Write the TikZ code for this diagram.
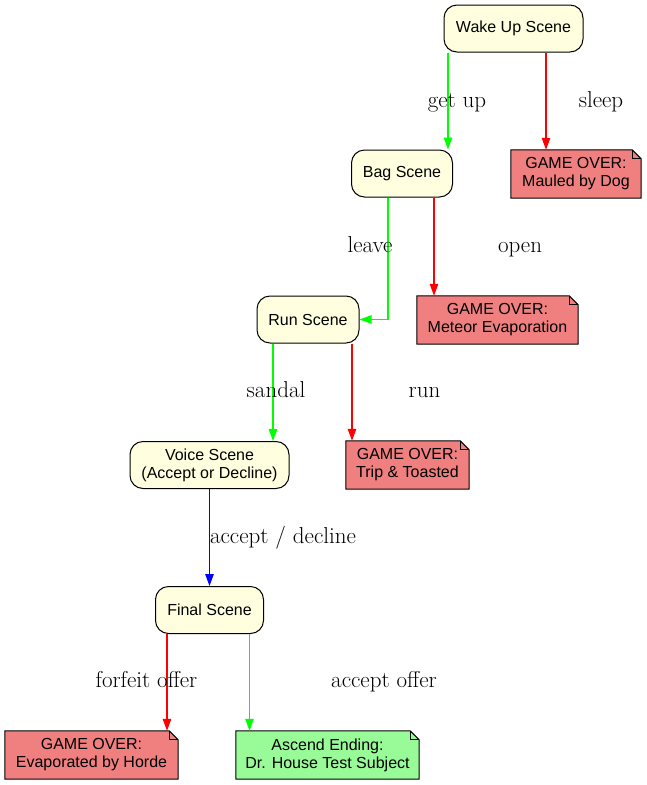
\documentclass[tikz,border=0pt]{standalone}
\usepackage{fontspec}
\newfontfamily\nodefont{Liberation Sans}
\usetikzlibrary{arrows.meta,backgrounds}
\definecolor{sceneyel}{HTML}{FFFFE0}
\definecolor{overred}{HTML}{F08080}
\definecolor{endgreen}{HTML}{98FB98}
\definecolor{egreen}{HTML}{00FF00}
\definecolor{ered}{HTML}{FF0000}
\definecolor{eblue}{HTML}{0000FF}
\tikzset{
  scene/.style={draw=black, line width=1pt, fill=sceneyel, rounded corners=13pt,
    font=\nodefont\fontsize{16}{18}\selectfont, align=center,
    minimum height=47pt, inner sep=0pt},
  notebox/.style={font=\nodefont\fontsize{16}{18}\selectfont, align=center,
    minimum height=48pt, inner sep=0pt},
  conn/.style={-{Triangle[length=12pt,width=8.5pt]}, line width=1.1pt},
  lbl/.style={font=\fontsize{23}{26}\selectfont, anchor=base, inner sep=0pt}
}
\newcommand\notebg[2]{%
  \begin{scope}[on background layer]
    \draw[fill=#2, line width=1pt] (#1.north west) -- ([xshift=-9pt]#1.north east)
      -- ([yshift=-9pt]#1.north east) -- (#1.south east) -- (#1.south west) -- cycle;
    \draw[line width=1pt] ([xshift=-9pt]#1.north east) -- ([xshift=-9pt,yshift=-9pt]#1.north east)
      -- ([yshift=-9pt]#1.north east);
  \end{scope}}
\begin{document}
\begin{tikzpicture}[x=1pt,y=-1pt]
\useasboundingbox (0,0) rectangle (647,785);
% scenes
\node[scene, minimum width=139pt] (wake) at (513.5,28.5) {Wake Up Scene};
\node[scene, minimum width=101pt] (bag) at (402,173.5) {Bag Scene};
\node[scene, minimum width=102pt] (run) at (308,319.5) {Run Scene};
\node[scene, minimum width=159pt] (voice) at (209.5,465) {Voice Scene\\(Accept or Decline)};
\node[scene, minimum width=108pt] (final) at (209.5,610) {Final Scene};
% endings
\node[notebox, minimum width=130pt] (dog) at (576,174) {GAME OVER:\\Mauled by Dog};
\notebg{dog}{overred}
\node[notebox, minimum width=161pt] (meteor) at (497.5,320) {GAME OVER:\\Meteor Evaporation};
\notebg{meteor}{overred}
\node[notebox, minimum width=123pt] (trip) at (407.5,465) {GAME OVER:\\Trip \& Toasted};
\notebg{trip}{overred}
\node[notebox, minimum width=173pt] (horde) at (91.5,755) {GAME OVER:\\Evaporated by Horde};
\notebg{horde}{overred}
\node[notebox, minimum width=183pt] (ascend) at (327.5,755) {Ascend Ending:\\Dr. House Test Subject};
\notebg{ascend}{endgreen}
% connectors
\draw[conn, egreen] ([xshift=-65.5pt]wake.south) -- ([xshift=46pt]bag.north);
\draw[conn, ered] ([xshift=32.5pt]wake.south) -- ([xshift=-30pt]dog.north);
\draw[conn, egreen] ([xshift=-14pt]bag.south) |- (run.east);
\draw[conn, ered] ([xshift=32pt]bag.south) -- ([xshift=-63.5pt]meteor.north);
\draw[conn, egreen] ([xshift=-35pt]run.south) -- ([xshift=63.5pt]voice.north);
\draw[conn, ered] ([xshift=44pt]run.south) -- ([xshift=-55.5pt]trip.north);
\draw[conn, eblue] (voice.south) -- (final.north);
\draw[conn, ered] ([xshift=-42.5pt]final.south) -- ([xshift=75.5pt]horde.north);
\draw[conn, egreen] ([xshift=40pt]final.south) -- ([xshift=-78pt]ascend.north);
% labels
\node[lbl] (lgetup) at (457,107) {get up};
\node[lbl] (lsleep) at (601,107) {sleep};
\node[lbl] (lleave) at (370,252) {leave};
\node[lbl] (lopen) at (520,252) {open};
\node[lbl] (lsandal) at (276,397) {sandal};
\node[lbl] (lrun) at (424.5,397) {run};
\node[lbl] (lacc) at (283,543) {accept / decline};
\node[lbl] (lforf) at (146.5,687) {forfeit offer};
\node[lbl] (laccoff) at (384,687) {accept offer};
\end{tikzpicture}
\end{document}
